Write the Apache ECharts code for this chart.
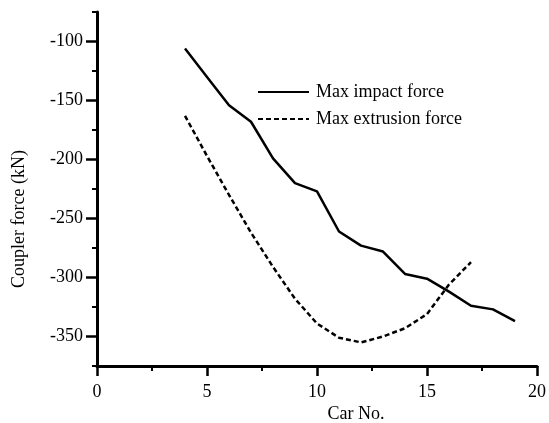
<!DOCTYPE html>
<html>
<head>
<meta charset="utf-8">
<script src="https://cdn.jsdelivr.net/npm/echarts@6/dist/echarts.min.js"></script>
<style>
html,body{margin:0;padding:0;background:#fff;}
#chart{width:549px;height:423px;}
</style>
</head>
<body>
<div id="chart"></div>
<script>
var impactX = [4,5,6,7,8,9,10,11,12,13,14,15,16,17,18,19];
var impactForce = [-106,-130,-154,-168,-199,-220,-227,-261,-273,-278,-297,-301,-312,-324,-327,-337];
var extrusionX = [4,5,6,7,8,9,10,11,12,13,14,15,16,17];
var extrusionForce = [-163,-197,-230,-262,-291,-318,-339,-351,-355,-350,-343,-331,-306,-287];
var yMajorTicks = [-100,-150,-200,-250,-300,-350];
var yMinorTicks = [-75,-125,-175,-225,-275,-325,-375];
var seriesNames = ['Max impact force','Max extrusion force'];

var FONT = "'Liberation Serif','Times New Roman',serif";
function pairs(xs, ys){ return xs.map(function(x,i){ return [x, ys[i]]; }); }

var chart = echarts.init(document.getElementById('chart'), null, {renderer:'canvas'});
chart.setOption({
  animation:false,
  backgroundColor:'#fff',
  textStyle:{fontFamily:FONT, color:'#000'},
  grid:{left:97, right:6, top:12, bottom:57, containLabel:false},
  legend:{
    orient:'vertical', left:252, top:78,
    itemWidth:51, itemHeight:14, itemGap:9,
    itemStyle:{opacity:0},
    textStyle:{fontFamily:FONT, fontSize:18, color:'#000', padding:[0,0,0,2]},
    data:seriesNames
  },
  xAxis:{
    type:'value', min:0, max:20, interval:5,
    axisLine:{lineStyle:{color:'#000', width:3}},
    axisTick:{show:true, inside:false, length:10, lineStyle:{color:'#000', width:2.5}},
    minorTick:{show:true, splitNumber:2, length:5, lineStyle:{color:'#000', width:2}},
    splitLine:{show:false},
    axisLabel:{fontFamily:FONT, fontSize:18, color:'#000', margin:17}
  },
  yAxis:[{
    type:'value', min:-375, max:-75,
    axisLine:{show:true, lineStyle:{color:'#000', width:3}},
    axisTick:{show:true, length:11, customValues:yMajorTicks, lineStyle:{color:'#000', width:2.5}},
    axisLabel:{fontFamily:FONT, fontSize:18, color:'#000', margin:14, customValues:yMajorTicks},
    splitLine:{show:false}
  },{
    type:'value', min:-375, max:-75, position:'left',
    axisLine:{show:false},
    axisTick:{show:true, length:5, customValues:yMinorTicks, lineStyle:{color:'#000', width:2}},
    axisLabel:{show:false},
    splitLine:{show:false}
  }],
  graphic:[
    {type:'text', x:356, y:414, style:{text:'Car No.', font:"18px "+FONT, fill:'#000', textAlign:'center', textVerticalAlign:'middle'}},
    {type:'text', rotation:Math.PI/2, x:19, y:219, style:{text:'Coupler force (kN)', font:"18px "+FONT, fill:'#000', textAlign:'center', textVerticalAlign:'middle'}}
  ],
  series:[{
    name:seriesNames[0], type:'line', data:pairs(impactX, impactForce),
    showSymbol:false, symbol:'none',
    lineStyle:{color:'#000', width:2.5, type:'solid'},
    itemStyle:{color:'#000'}
  },{
    name:seriesNames[1], type:'line', data:pairs(extrusionX, extrusionForce),
    showSymbol:false, symbol:'none',
    lineStyle:{color:'#000', width:2.5, type:[5,3]},
    itemStyle:{color:'#000'}
  }]
});
</script>
</body>
</html>
